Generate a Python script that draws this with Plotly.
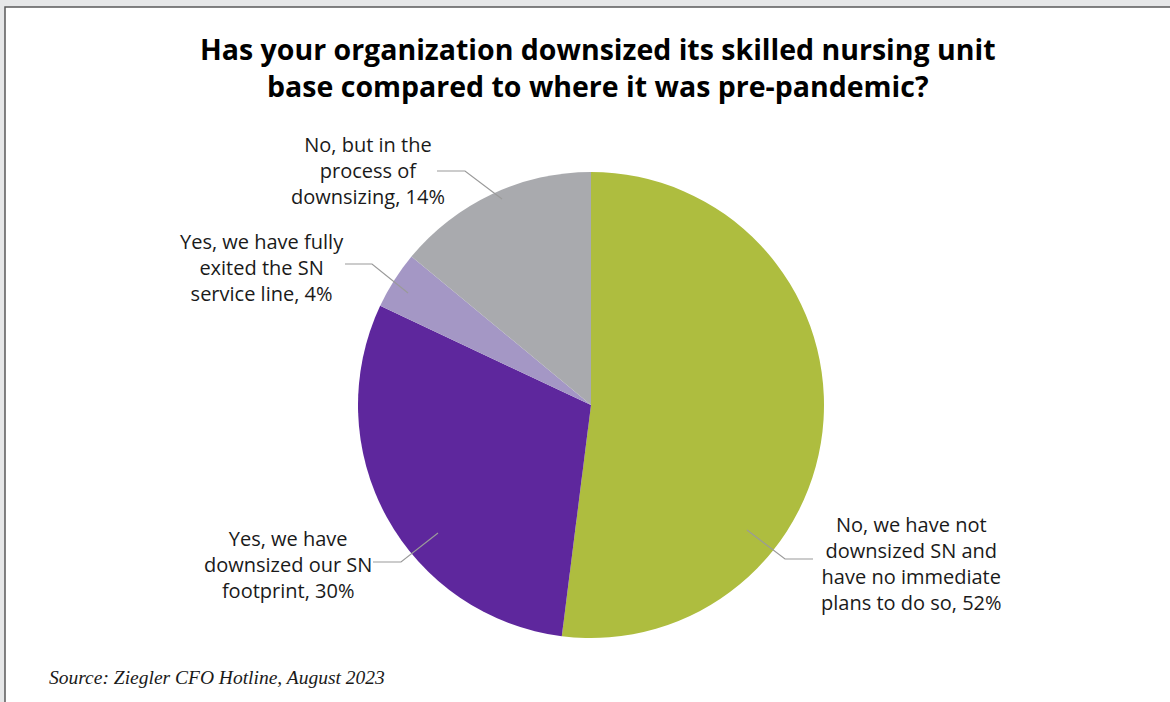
import plotly.graph_objects as go

# ---- data ----
categories = [
    "No, we have not downsized SN and have no immediate plans to do so",
    "Yes, we have downsized our SN footprint",
    "Yes, we have fully exited the SN service line",
    "No, but in the process of downsizing",
]
values = [52, 30, 4, 14]
label_texts = [
    "No, we have not<br>downsized SN and<br>have no immediate<br>plans to do so, 52%",
    "Yes, we have<br>downsized our SN<br>footprint, 30%",
    "Yes, we have fully<br>exited the SN<br>service line, 4%",
    "No, but in the<br>process of<br>downsizing, 14%",
]
colors = ["#AEBD3F", "#5E279D", "#A497C5", "#A9AAAE"]

W, H = 1170, 702


def px(x):
    return x / W


def py(y):
    return 1 - y / H


# pie geometry (pixels)
cx, cy, r = 591, 405, 233

fig = go.Figure(go.Pie(
    labels=categories,
    values=values,
    marker=dict(colors=colors, line=dict(width=0)),
    sort=False,
    direction="clockwise",
    rotation=0,
    textinfo="none",
    hoverinfo="label+percent",
    showlegend=False,
    domain=dict(x=[px(cx - r), px(cx + r)], y=[py(cy + r), py(cy - r)]),
))

# label placement (pixel centres) and leader lines
label_pos = [(911, 563), (288, 564), (262, 267), (368, 170)]
leaders = [
    [(747, 530), (785, 559), (813, 559)],
    [(373, 562), (401, 562), (438, 533)],
    [(345, 264), (372, 264), (408, 293)],
    [(437, 171), (465, 171), (502, 199)],
]

shapes = [
    dict(type="rect", xref="paper", yref="paper",
         x0=px(5), x1=px(1180), y0=py(712), y1=py(7),
         fillcolor="white", line=dict(color="#5a5a5a", width=1.5), layer="below"),
]
for pts in leaders:
    path = "M " + " L ".join(f"{px(x)},{py(y)}" for x, y in pts)
    shapes.append(dict(type="path", xref="paper", yref="paper", path=path,
                       line=dict(color="#9a9a9a", width=1.2), layer="above"))

annotations = []
for (x, y), t in zip(label_pos, label_texts):
    annotations.append(dict(
        x=px(x), y=py(y), xref="paper", yref="paper", text=t, showarrow=False,
        xanchor="center", yanchor="middle", align="center",
        font=dict(family="Open Sans, sans-serif", size=20, color="#1a1a1a"),
    ))

annotations.append(dict(
    x=px(598), y=py(68), xref="paper", yref="paper",
    text="<b>Has your organization downsized its skilled nursing unit<br>base compared to where it was pre-pandemic?</b>",
    showarrow=False, xanchor="center", yanchor="middle", align="center",
    font=dict(family="Open Sans, sans-serif", size=28.5, color="#000000"),
))
annotations.append(dict(
    x=px(47), y=py(677), xref="paper", yref="paper",
    text="<i>Source: Ziegler CFO Hotline, August 2023</i>",
    showarrow=False, xanchor="left", yanchor="middle",
    font=dict(family="Liberation Serif, serif", size=19.5, color="#1a1a1a"),
))

fig.update_layout(
    width=W, height=H,
    margin=dict(l=0, r=0, t=0, b=0),
    paper_bgcolor="#E6E7E8",
    plot_bgcolor="white",
    shapes=shapes,
    annotations=annotations,
)

fig.write_html("out.html")
